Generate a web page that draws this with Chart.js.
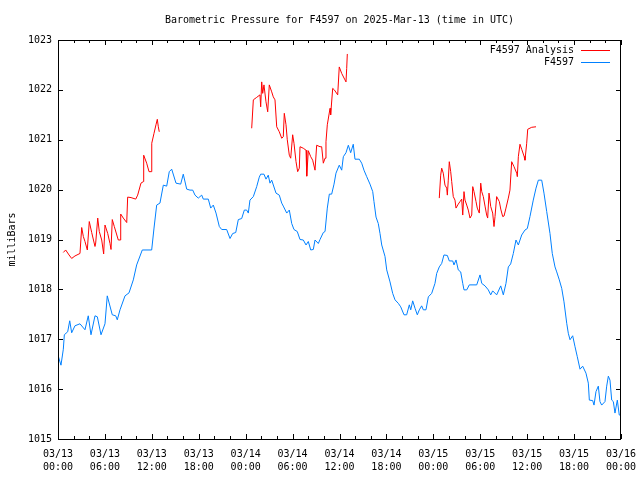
<!DOCTYPE html>
<html>
<head>
<meta charset="utf-8">
<script src="https://cdn.jsdelivr.net/npm/chart.js@4.4.1/dist/chart.umd.min.js"></script>
<style>
  html, body { margin: 0; padding: 0; background: #ffffff; }
  canvas { display: block; }
</style>
</head>
<body>
<canvas id="c" width="640" height="480"></canvas>
<script>
// ---- data (hours since 2025-03-13 00:00 UTC, pressure in millibars) ----
const titleText = 'Barometric Pressure for F4597 on 2025-Mar-13 (time in UTC)';
const yAxisTitle = 'milliBars';
const seriesNames = ['F4597 Analysis', 'F4597'];

const xTickLabels = [
  ['03/13','00:00'], ['03/13','06:00'], ['03/13','12:00'], ['03/13','18:00'],
  ['03/14','00:00'], ['03/14','06:00'], ['03/14','12:00'], ['03/14','18:00'],
  ['03/15','00:00'], ['03/15','06:00'], ['03/15','12:00'], ['03/15','18:00'],
  ['03/16','00:00']
];

const stationHours = [
  0.00,0.38,0.68,0.81,1.24,1.50,1.75,2.17,2.81,3.45,3.87,4.22,4.73,5.03,5.50,6.01,6.30,6.94,7.38,7.58,
  7.93,8.57,9.08,9.63,10.06,10.78,11.98,12.28,12.62,13.04,13.47,13.90,14.23,14.54,15.09,15.69,16.02,16.46,16.88,17.23,
  17.52,17.94,18.38,18.58,19.22,19.53,19.86,20.21,20.63,20.94,21.57,22.00,22.34,22.73,23.06,23.49,23.83,24.13,24.34,24.55,
  24.98,25.41,25.74,25.92,26.34,26.60,26.89,27.11,27.33,27.88,28.30,28.61,28.81,29.25,29.58,29.89,30.18,30.60,30.95,31.37,
  31.72,32.01,32.32,32.65,32.87,33.29,33.51,33.93,34.15,34.44,34.70,35.00,35.30,35.55,35.97,36.28,36.49,36.83,37.13,37.43,
  37.76,37.98,38.53,38.84,39.13,39.48,39.90,40.25,40.41,40.67,40.96,41.18,41.40,41.82,42.04,42.46,42.80,43.10,43.52,43.83,
  44.25,44.59,44.93,45.11,45.36,45.66,45.95,46.21,46.51,46.72,47.06,47.36,47.79,48.21,48.43,48.76,49.07,49.36,49.79,50.04,
  50.48,50.64,50.90,51.19,51.50,51.76,51.92,52.27,52.60,53.55,53.97,54.19,54.61,55.03,55.34,55.59,56.10,56.62,56.95,57.29,
  57.59,57.89,58.23,58.57,58.87,59.30,59.72,60.02,60.36,60.78,61.13,61.43,61.86,62.15,62.50,62.92,63.21,63.56,63.78,64.11,
  64.42,64.71,65.06,65.26,65.48,65.82,66.12,66.41,66.76,67.10,67.52,67.82,67.95,68.38,68.55,68.80,69.10,69.31,69.53,69.95,
  70.17,70.38,70.59,70.81,71.02,71.23,71.53,71.78,71.96
];
const stationPressure = [
  1016.68,1016.48,1016.80,1017.09,1017.15,1017.37,1017.13,1017.27,1017.31,1017.19,1017.47,1017.09,1017.47,1017.45,1017.09,1017.31,1017.87,1017.49,1017.47,1017.39,
  1017.59,1017.87,1017.93,1018.19,1018.49,1018.79,1018.79,1019.23,1019.69,1019.73,1020.09,1020.07,1020.36,1020.41,1020.13,1020.11,1020.31,1020.01,1019.99,1019.99,
  1019.89,1019.83,1019.89,1019.81,1019.81,1019.63,1019.69,1019.53,1019.26,1019.20,1019.20,1019.02,1019.12,1019.14,1019.40,1019.42,1019.59,1019.59,1019.53,1019.79,
  1019.86,1020.06,1020.25,1020.31,1020.31,1020.21,1020.29,1020.13,1020.19,1019.93,1019.89,1019.73,1019.67,1019.53,1019.59,1019.32,1019.20,1019.16,1019.00,1018.99,
  1018.89,1018.96,1018.79,1018.80,1018.99,1018.92,1019.00,1019.14,1019.16,1019.63,1019.91,1019.91,1020.11,1020.33,1020.49,1020.39,1020.66,1020.74,1020.89,1020.74,
  1020.91,1020.61,1020.61,1020.53,1020.39,1020.26,1020.11,1019.96,1019.76,1019.45,1019.32,1019.12,1018.89,1018.66,1018.39,1018.15,1017.92,1017.79,1017.72,1017.65,
  1017.49,1017.49,1017.69,1017.59,1017.77,1017.62,1017.49,1017.59,1017.67,1017.59,1017.59,1017.85,1017.92,1018.12,1018.32,1018.45,1018.52,1018.69,1018.68,1018.57,
  1018.57,1018.49,1018.59,1018.39,1018.35,1018.12,1017.99,1017.99,1018.09,1018.09,1018.29,1018.12,1018.07,1017.99,1017.89,1017.97,1017.89,1018.07,1017.89,1018.12,
  1018.45,1018.51,1018.72,1018.99,1018.89,1019.09,1019.19,1019.22,1019.46,1019.79,1020.03,1020.19,1020.19,1019.93,1019.56,1019.12,1018.72,1018.45,1018.35,1018.19,
  1018.02,1017.75,1017.32,1017.12,1016.99,1017.07,1016.85,1016.65,1016.40,1016.46,1016.32,1016.12,1015.78,1015.77,1015.68,1015.95,1016.06,1015.75,1015.68,1015.75,
  1016.06,1016.26,1016.18,1015.78,1015.75,1015.52,1015.78,1015.48,1015.48
];

// null values mark the gaps between analysis runs
const analysisHours = [
  0.68,0.98,1.41,1.75,2.17,2.81,3.03,3.24,3.45,3.75,4.00,4.31,4.73,4.82,5.08,5.28,5.59,5.84,6.01,6.36,
  6.65,6.78,6.94,7.20,7.71,7.97,8.02,8.35,8.79,8.91,9.34,9.94,10.19,10.61,10.91,10.96,11.34,11.64,11.98,11.99,
  12.28,12.53,12.70,12.83,12.95,
  18.00,
  24.77,24.98,25.41,25.83,25.92,26.05,26.18,26.34,26.60,26.82,27.02,27.33,27.53,27.75,27.97,28.30,28.61,28.81,28.94,29.16,
  29.32,29.58,29.76,30.01,30.18,30.44,30.65,30.86,30.95,31.37,31.72,31.81,32.01,32.32,32.57,32.87,33.08,33.51,33.72,33.93,
  34.15,34.27,34.44,34.79,34.87,35.13,35.34,35.77,35.97,36.28,36.70,36.83,36.92,37.00,
  43.00,
  48.76,48.94,49.07,49.27,49.49,49.71,49.79,49.91,50.04,50.22,50.35,50.55,50.77,50.90,51.19,51.41,51.63,51.76,51.92,52.05,
  52.27,52.47,52.69,52.91,53.04,53.20,53.46,53.62,53.88,54.06,54.19,54.39,54.61,54.82,54.95,55.12,55.34,55.59,55.76,55.89,
  56.10,56.44,56.62,56.87,57.04,57.29,57.59,57.80,58.02,58.32,58.66,58.74,58.87,59.08,59.30,59.60,59.72,59.94,60.07,60.58,
  61.13
];
const analysisPressure = [
  1018.74,1018.79,1018.69,1018.62,1018.67,1018.72,1019.24,1019.06,1018.96,1018.79,1019.36,1019.14,1018.86,1018.93,1019.43,1019.16,1018.99,1018.71,1019.29,1019.12,
  1018.92,1018.80,1019.40,1019.26,1018.99,1018.99,1019.51,1019.43,1019.34,1019.85,1019.84,1019.81,1019.89,1020.13,1020.16,1020.69,1020.53,1020.36,1020.36,1020.93,
  1021.13,1021.30,1021.41,1021.26,1021.16,
  null,
  1021.23,1021.80,1021.85,1021.90,1021.66,1022.16,1021.93,1022.10,1021.76,1021.56,1022.10,1021.96,1021.86,1021.80,1021.26,1021.16,1021.03,1021.06,1021.53,1021.30,
  1021.00,1020.69,1020.63,1021.10,1020.93,1020.56,1020.36,1020.43,1020.86,1020.83,1020.79,1020.27,1020.78,1020.66,1020.59,1020.39,1020.89,1020.86,1020.86,1020.53,
  1020.63,1020.96,1021.30,1021.63,1021.50,1022.03,1022.00,1021.90,1022.46,1022.33,1022.20,1022.16,1022.43,1022.72,
  null,
  1019.83,1020.29,1020.43,1020.33,1020.09,1020.03,1019.89,1020.19,1020.56,1020.36,1020.16,1019.86,1019.79,1019.63,1019.71,1019.76,1019.81,1019.49,1019.96,1019.79,
  1019.69,1019.59,1019.43,1019.49,1020.06,1019.96,1019.76,1019.63,1019.53,1020.13,1019.96,1019.86,1019.67,1019.49,1019.43,1019.93,1019.66,1019.53,1019.26,1019.46,
  1019.86,1019.76,1019.61,1019.46,1019.47,1019.63,1019.83,1019.99,1020.56,1020.46,1020.33,1020.26,1020.66,1020.91,1020.81,1020.67,1020.59,1020.93,1021.21,1021.25,
  1021.26
];

// ---- chart ----
const FAMILY = '"DejaVu Sans Mono", "Liberation Mono", monospace';
const FONT = { family: FAMILY, size: 10, weight: 'normal', lineHeight: 1.2 };
const XFONT = { family: FAMILY, size: 10, weight: 'normal', lineHeight: 1.3 };
const COLORS = ['#ff0000', '#0080ff'];

function toPoints(xs, ys) { return xs.map((x, i) => ({ x: x, y: ys[i] })); }

// gnuplot-style frame, inward ticks on all four sides, and legend (text then sample)
const framePlugin = {
  id: 'frame',
  afterDraw(chart) {
    const ctx = chart.ctx, a = chart.chartArea;
    const xs = chart.scales.x, ys = chart.scales.y;
    ctx.save();
    ctx.strokeStyle = '#000';
    ctx.lineWidth = 1;
    ctx.beginPath();
    ctx.rect(Math.round(a.left) + 0.5, Math.round(a.top) + 0.5,
             Math.round(a.right - a.left) - 1, Math.round(a.bottom - a.top));
    ctx.stroke();
    ctx.beginPath();
    for (let h = xs.min; h <= xs.max; h += 2) {
      const px = Math.round(xs.getPixelForValue(h)) + 0.5;
      const len = (h % 6 === 0) ? 5 : 3;
      ctx.moveTo(px, a.bottom); ctx.lineTo(px, a.bottom - len);
      ctx.moveTo(px, a.top); ctx.lineTo(px, a.top + len);
    }
    for (let v = ys.min; v <= ys.max; v += 1) {
      const py = Math.round(ys.getPixelForValue(v)) + 0.5;
      ctx.moveTo(a.left, py); ctx.lineTo(a.left + 5, py);
      ctx.moveTo(a.right, py); ctx.lineTo(a.right - 5, py);
    }
    ctx.stroke();
    // legend
    ctx.font = '10px ' + FAMILY;
    ctx.textAlign = 'right';
    ctx.textBaseline = 'middle';
    chart.data.datasets.forEach((ds, i) => {
      const y = 50 + i * 12;
      ctx.fillStyle = '#000';
      ctx.fillText(ds.label, 574, y + 0.5);
      ctx.strokeStyle = ds.borderColor;
      ctx.beginPath();
      ctx.moveTo(581, y + 0.5); ctx.lineTo(610, y + 0.5);
      ctx.stroke();
    });
    ctx.restore();
  }
};

new Chart(document.getElementById('c'), {
  type: 'line',
  data: {
    datasets: [
      { label: seriesNames[0], data: toPoints(analysisHours, analysisPressure),
        borderColor: COLORS[0], backgroundColor: COLORS[0], borderWidth: 1,
        pointRadius: 0, tension: 0, spanGaps: false, fill: false },
      { label: seriesNames[1], data: toPoints(stationHours, stationPressure),
        borderColor: COLORS[1], backgroundColor: COLORS[1], borderWidth: 1,
        pointRadius: 0, tension: 0, fill: false }
    ]
  },
  options: {
    responsive: false,
    animation: false,
    devicePixelRatio: 1,
    layout: { padding: { left: 0, right: 19, top: 0, bottom: 0 } },
    plugins: {
      legend: { display: false },
      tooltip: { enabled: false },
      title: { display: true, fullSize: false, text: titleText, color: '#000', font: FONT,
               padding: { top: 14, bottom: 14 } }
    },
    scales: {
      x: {
        type: 'linear', min: 0, max: 72,
        grid: { display: false, drawTicks: false },
        border: { display: false },
        afterFit(s) { s.height = 41; s.paddingLeft = 0; s.paddingRight = 0; },
        ticks: {
          stepSize: 6, autoSkip: false, maxRotation: 0, padding: 9,
          color: '#000', font: XFONT,
          callback: (v) => xTickLabels[Math.round(v / 6)]
        }
      },
      y: {
        min: 1015, max: 1023,
        grid: { display: false, drawTicks: false },
        border: { display: false },
        afterFit(s) { s.width = 58; s.paddingTop = 0; s.paddingBottom = 0; },
        title: { display: true, text: yAxisTitle, color: '#000', font: FONT,
                 padding: { top: 6, bottom: 0 } },
        ticks: { stepSize: 1, padding: 6, color: '#000', font: FONT,
                 callback: (v) => String(v) }
      }
    }
  },
  plugins: [framePlugin]
});
</script>
</body>
</html>
